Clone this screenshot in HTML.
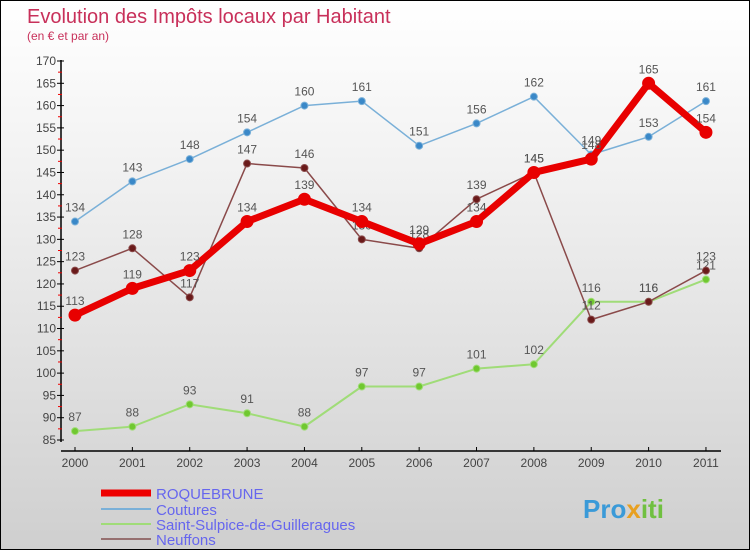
<!DOCTYPE html>
<html><head><meta charset="utf-8"><style>
body{margin:0;width:750px;height:550px;overflow:hidden;font-family:"Liberation Sans",sans-serif}
#wrap{position:relative;width:748px;height:548px;border:1px solid #000;background:linear-gradient(#fff,#f2f2f2 30%,#cfcfcf)}
</style></head><body>
<div id="wrap">
<svg id="c" width="748" height="548">
<text x="26" y="22" font-size="20" fill="#c8305a">Evolution des Impôts locaux par Habitant</text>
<text x="26" y="39" font-size="12" fill="#c8305a">(en € et par an)</text>
<g id="axes"></g><g id="series"></g>
<g>
<line x1="100" y1="492" x2="150" y2="492" stroke="#e00" stroke-width="7"/>
<text x="155" y="498" font-size="15" fill="#6666ee">ROQUEBRUNE</text>
<line x1="100" y1="508" x2="150" y2="508" stroke="#7ab0d8" stroke-width="2"/>
<text x="155" y="514" font-size="15" fill="#6666ee">Coutures</text>
<line x1="100" y1="523" x2="150" y2="523" stroke="#a0dc78" stroke-width="2"/>
<text x="155" y="529" font-size="15" fill="#6666ee">Saint-Sulpice-de-Guilleragues</text>
<line x1="100" y1="538" x2="150" y2="538" stroke="#967070" stroke-width="2"/>
<text x="155" y="544" font-size="15" fill="#6666ee">Neuffons</text>
</g>
<text x="582" y="517" font-size="26" font-weight="bold" fill="#3a9ad8">Pro<tspan fill="#e8a020">x</tspan><tspan fill="#70c040">iti</tspan></text>
</svg>
</div>
<script>
const years=["2000","2001","2002","2003","2004","2005","2006","2007","2008","2009","2010","2011"];
const yTicks=[85,90,95,100,105,110,115,120,125,130,135,140,145,150,155,160,165,170];
const roquebrune=[113,119,123,134,139,134,129,134,145,148,165,154];
const coutures=[134,143,148,154,160,161,151,156,162,149,153,161];
const stSulpice=[87,88,93,91,88,97,97,101,102,116,116,121];
const neuffons=[123,128,117,147,146,130,128,139,145,112,116,123];
const NS="http://www.w3.org/2000/svg";
const X=i=>74+i*57.36, Y=v=>439-(v-85)*(379/85);
function mk(t,a,p){const e=document.createElementNS(NS,t);for(const k in a)e.setAttribute(k,a[k]);p.appendChild(e);return e;}
const ax=document.getElementById('axes');
let l=mk('line',{x1:60,y1:59,x2:60,y2:441,stroke:'#000','stroke-width':1.5},ax);


l=mk('line',{x1:60,y1:450,x2:720,y2:450,stroke:'#000','stroke-width':1.5},ax);


yTicks.forEach(v=>{mk('line',{x1:56,y1:Y(v),x2:63,y2:Y(v),stroke:'#000'},ax);
 if(v<170)mk('line',{x1:57,y1:Y(v+2.5),x2:61,y2:Y(v+2.5),stroke:'#e00'},ax);
 const t=mk('text',{x:55,y:Y(v)+4,'font-size':12,'text-anchor':'end',fill:'#444'},ax);t.textContent=v;
 
 });
years.forEach((y,i)=>{mk('line',{x1:X(i),y1:446,x2:X(i),y2:450,stroke:'#000'},ax);
 const t=mk('text',{x:X(i),y:466,'font-size':12,'text-anchor':'middle',fill:'#444'},ax);t.textContent=y;
 
 });
const sg=document.getElementById('series');
function draw(d,name,col,dot,w,r){
 const g=mk('g',{},sg);
 
 
 mk('polyline',{points:d.map((v,i)=>X(i)+','+Y(v)).join(' '),fill:'none',stroke:col,'stroke-width':w,'stroke-linejoin':'round'},g);
 d.forEach((v,i)=>{const c=mk('circle',{cx:X(i),cy:Y(v),r:r,fill:dot,stroke:col,'stroke-width':1},g);
  
  
  const t=mk('text',{x:X(i),y:Y(v)-10,'font-size':12,'text-anchor':'middle',fill:'#555'},g);t.textContent=v;
  
  });
}
draw(stSulpice,'series-saint-sulpice','#a0dc78','#70c830',2,3.5);
draw(coutures,'series-coutures','#7ab0d8','#3a88c8',1.5,3.5);
draw(neuffons,'series-neuffons','#8a4a4a','#6a1a1a',1.5,3.5);
draw(roquebrune,'series-roquebrune','#e80000','#e80000',7,6);
</script>
</body></html>
